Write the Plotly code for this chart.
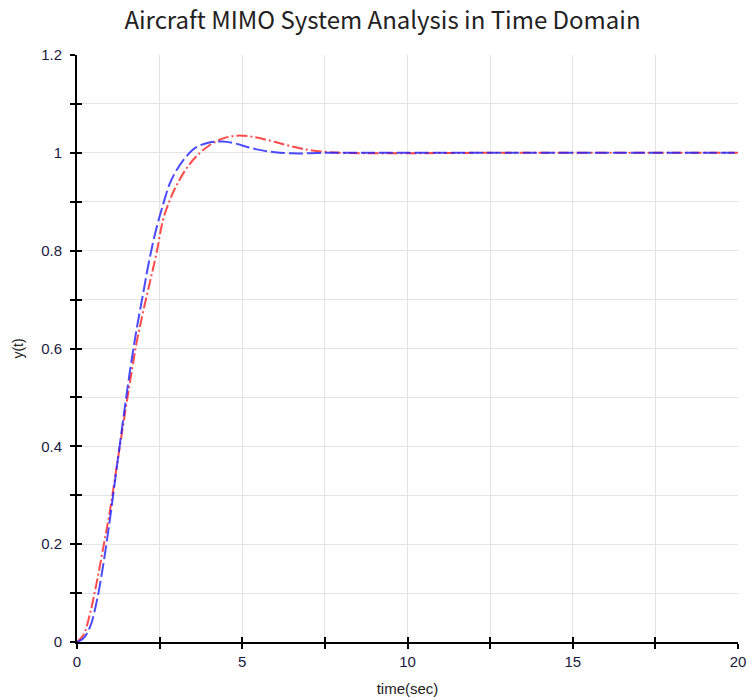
import plotly.graph_objects as go

time = [0, 0.2, 0.4, 0.6, 0.8, 1.0, 1.2, 1.4, 1.6, 1.8, 2.0, 2.2, 2.4, 2.6, 2.8,
        3.0, 3.3, 3.6, 4.0, 4.4, 4.8, 5.2, 5.6, 6.0, 6.5, 7.0, 7.5, 8.0, 9.0,
        10, 12, 14, 16, 18, 20]
y_red = [0, 0.015, 0.06, 0.123, 0.195, 0.27, 0.358, 0.445, 0.53, 0.611, 0.675,
         0.734, 0.793, 0.862, 0.902, 0.932, 0.967, 0.992, 1.015, 1.029, 1.035,
         1.034, 1.029, 1.022, 1.013, 1.006, 1.002, 1.0, 0.999, 0.999, 1.0,
         1.0, 1.0, 1.0, 1.0]
y_blue = [0, 0.008, 0.032, 0.084, 0.16, 0.253, 0.355, 0.456, 0.553, 0.638,
          0.712, 0.785, 0.845, 0.893, 0.936, 0.963, 0.992, 1.011, 1.021, 1.023,
          1.019, 1.011, 1.005, 1.001, 0.999, 0.999, 1.0, 1.0, 1.0, 1.0, 1.0,
          1.0, 1.0, 1.0, 1.0]

x_range = [0, 20]
y_range = [0, 1.2]

fig = go.Figure()
fig.add_trace(go.Scatter(x=time, y=y_red, mode="lines", line_shape="spline",
                         line=dict(color="rgba(255,30,30,0.8)", width=2,
                                   dash="11px,3px,2px,3px"),
                         showlegend=False))
fig.add_trace(go.Scatter(x=time, y=y_blue, mode="lines", line_shape="spline",
                         line=dict(color="rgba(30,30,255,0.8)", width=2,
                                   dash="14px,4px"),
                         showlegend=False))
# invisible trace to hold overlay axes (inward tick marks)
fig.add_trace(go.Scatter(x=[x_range[0]], y=[y_range[0]], xaxis="x2", yaxis="y2",
                         mode="markers", marker=dict(opacity=0), showlegend=False,
                         hoverinfo="skip"))

grid = "#e4e4e4"
tickfont = dict(family="Liberation Sans, Arial", size=15, color="#1a1a40")
fig.update_layout(
    width=750, height=700,
    margin=dict(l=77, r=12, t=55, b=58),
    paper_bgcolor="white", plot_bgcolor="white",
    title=dict(text="Aircraft MIMO System Analysis in Time Domain",
               x=0.51, xanchor="center", yref="container", y=1 - 21 / 700,
               yanchor="middle",
               font=dict(family="Noto Sans CJK KR, Noto Sans", size=24, color="#222")),
    xaxis=dict(range=x_range, dtick=5, tick0=0, ticks="outside", ticklen=5,
               tickwidth=1.5, tickcolor="black", showline=True, linecolor="black",
               linewidth=2, showgrid=True, gridcolor=grid, zeroline=False,
               tickfont=tickfont, automargin=False,
               minor=dict(dtick=2.5, ticks="outside", ticklen=5, tickwidth=1.5,
                          tickcolor="black", showgrid=True, gridcolor=grid),
               title=dict(text="time(sec)", standoff=14,
                          font=dict(family="Liberation Sans, Arial", size=15, color="#222"))),
    yaxis=dict(range=y_range, dtick=0.2, tick0=0, ticks="outside", ticklen=5,
               tickwidth=1.5, tickcolor="black", showline=True, linecolor="black",
               linewidth=2, showgrid=True, gridcolor=grid, zeroline=False,
               tickfont=tickfont, automargin=False, ticklabelstandoff=5,
               minor=dict(dtick=0.1, ticks="outside", ticklen=5, tickwidth=1.5,
                          tickcolor="black", showgrid=True, gridcolor=grid),
               title=dict(text="y(t)", standoff=14,
                          font=dict(family="Liberation Sans, Arial", size=14, color="#222"))),
    xaxis2=dict(range=x_range, overlaying="x", anchor="y2", side="bottom",
                dtick=5, tick0=0, ticks="inside", ticklen=5, tickwidth=1.5,
                tickcolor="black", showticklabels=False, showgrid=False,
                zeroline=False, showline=False, automargin=False,
                minor=dict(dtick=2.5, ticks="inside", ticklen=5, tickwidth=1.5,
                           tickcolor="black", showgrid=False)),
    yaxis2=dict(range=y_range, overlaying="y", anchor="x2", side="left",
                dtick=0.2, tick0=0, ticks="inside", ticklen=5, tickwidth=1.5,
                tickcolor="black", showticklabels=False, showgrid=False,
                zeroline=False, showline=False, automargin=False,
                minor=dict(dtick=0.1, ticks="inside", ticklen=5, tickwidth=1.5,
                           tickcolor="black", showgrid=False)),
)

fig.write_html("out.html")
